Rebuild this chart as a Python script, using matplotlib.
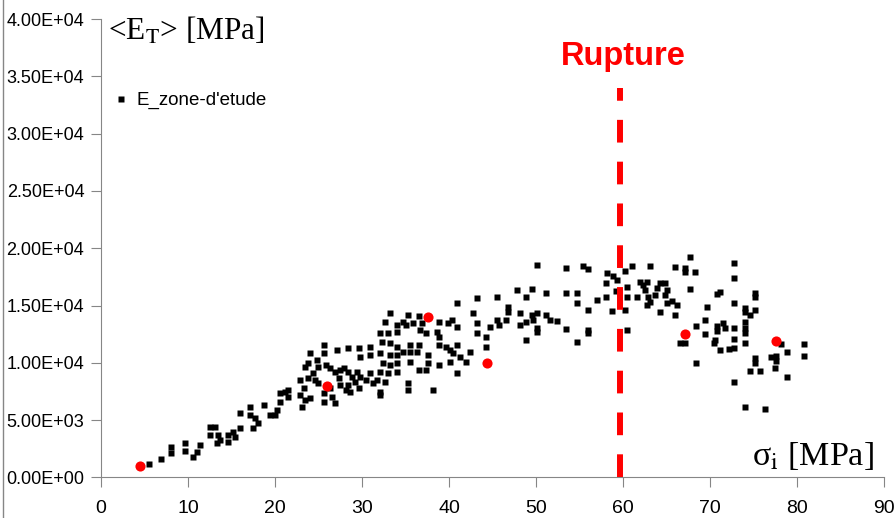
import numpy as np
import matplotlib.pyplot as plt
from matplotlib.lines import Line2D
from matplotlib.ticker import FuncFormatter

plt.rcParams['font.family'] = ['Liberation Sans', 'DejaVu Sans']
plt.rcParams['mathtext.fontset'] = 'stix'

## DATA (sigma_i [MPa], <E_T> [MPa])

# sigma_i < 22 MPa
pts_low = [(5.55, 1180), (6.86, 1610), (8.0, 2690), (8.0, 2160), (9.66, 3010), (9.66, 2310),
           (10.54, 1820), (11.0, 2250), (11.38, 2840), (13.3, 2980), (14.6, 3120), (13.7, 3270),
           (15.4, 3560), (12.5, 4430), (13.1, 4430), (12.5, 3710), (13.5, 3710), (14.6, 3710),
           (15.2, 4000), (16.0, 4290), (16.0, 5600), (17.1, 6180), (17.1, 5450), (17.5, 4290),
           (17.7, 5160), (18.1, 4730), (18.7, 6330), (19.4, 5450), (20.0, 5450), (20.2, 5890),
           (20.6, 7350), (21.1, 7490), (21.5, 7050), (21.5, 7640), (20.6, 6620)]

# 22 - 34 MPa
pts_mid = [(33.2, 14330), (32.6, 13600), (34.0, 13310), (32.1, 12580), (33.0, 12580), (34.0, 12720),
           (32.3, 11850), (33.2, 11710), (34.0, 11420), (32.1, 10840), (33.2, 10690), (34.0, 10690),
           (32.4, 9960), (33.2, 9820), (34.0, 9960), (32.1, 9230), (33.0, 9090), (34.0, 9230),
           (30.9, 11420), (30.9, 10690), (29.6, 11270), (29.8, 10540), (28.4, 11270), (27.1, 11130),
           (25.6, 11560), (25.6, 10840), (24.0, 10840), (23.8, 9960), (23.4, 9670), (24.8, 10250),
           (25.0, 9670), (24.4, 9090), (22.9, 8510), (23.8, 8660), (24.6, 8510), (25.0, 8220),
           (25.9, 9820), (26.3, 9530), (26.9, 9230), (27.5, 9380), (27.9, 9530), (28.4, 9230),
           (28.8, 8800), (29.4, 9230), (29.8, 8800), (30.5, 8510), (30.9, 9090), (31.7, 8510),
           (32.6, 8360), (31.3, 8220), (29.2, 8360), (28.4, 8070), (27.3, 8660), (27.5, 8070),
           (28.2, 7640), (29.6, 7780), (28.6, 7490), (32.1, 7490), (32.1, 7200), (26.5, 7050),
           (25.6, 7350), (26.3, 7780), (23.3, 7780), (22.9, 7200), (23.4, 6760), (24.0, 6910),
           (23.1, 6180), (25.6, 6620), (26.9, 6470)]

# 34 - 44 MPa
pts_upper = [(43.2, 15640), (40.9, 15200), (42.8, 14330), (43.2, 13460), (43.2, 12580), (40.3, 13740),
             (39.9, 13460), (40.9, 13160), (38.8, 13600), (36.5, 14090), (35.3, 14180), (34.7, 13600),
             (35.1, 13310), (35.9, 13460), (36.9, 13460), (36.7, 12870), (37.4, 12580), (38.6, 12720),
             (38.8, 12290), (35.5, 11560), (36.5, 11560), (36.3, 10980), (35.5, 10980), (34.7, 10980),
             (38.8, 11560), (39.7, 11420), (40.1, 11130), (40.9, 11560), (40.5, 10840), (41.3, 10540),
             (42.0, 10100), (42.4, 10980), (40.1, 10100), (38.8, 9820), (37.6, 10690), (37.6, 9960),
             (37.4, 9380), (36.5, 9380), (35.5, 10100), (35.3, 8220), (35.3, 7640), (38.2, 7640),
             (40.9, 9090)]

# 44 - 60 MPa
pts_peak = [(50.1, 18540), (53.5, 18250), (47.8, 16360), (49.5, 16420), (48.9, 15780), (51.2, 16070),
            (53.5, 16130), (54.7, 16130), (54.7, 15250), (45.5, 15780), (46.8, 14900), (46.8, 14470),
            (48.2, 14330), (49.5, 14180), (50.1, 14330), (51.2, 14180), (51.6, 13740), (52.4, 13680),
            (48.2, 13310), (48.9, 13600), (49.7, 13740), (50.1, 13020), (50.1, 12720), (45.5, 13740),
            (45.7, 13310), (44.3, 12290), (44.7, 13160), (46.6, 13740), (53.5, 12930), (54.7, 11850),
            (48.9, 12000), (44.3, 11420),
            (55.4, 18480), (56.0, 18190), (58.1, 17820), (58.9, 17610), (59.3, 17230), (58.0, 16950),
            (58.0, 15780), (59.2, 16270), (60.4, 16650), (60.4, 15780), (57.0, 15490), (56.0, 14620),
            (58.7, 14530), (60.2, 14620), (60.4, 12870), (56.0, 12870), (56.0, 12580)]

# after rupture
pts_post = [(60.2, 18000), (61.0, 18480), (63.1, 18480), (66.0, 18400), (67.1, 18250), (67.1, 17960),
            (68.3, 17900), (67.7, 19210), (72.8, 18740), (72.8, 17440), (61.6, 15720), (62.0, 17090),
            (62.3, 16800), (62.5, 16360), (62.7, 17090), (62.9, 15780), (63.1, 15340), (62.7, 15050),
            (63.7, 15930), (63.9, 16510), (64.3, 16950), (64.8, 16950), (65.0, 16360), (64.8, 15930),
            (64.3, 14470), (65.0, 15200), (65.6, 15400), (66.2, 15050), (66.0, 14180), (67.7, 16450),
            (70.8, 15990), (71.1, 16160), (75.2, 16130), (75.2, 15780), (72.8, 15200), (74.0, 14760),
            (74.0, 14470), (74.6, 14180), (75.2, 14620), (69.6, 14900), (69.4, 13740), (68.4, 13220),
            (69.4, 12520), (70.8, 13220), (70.8, 12810), (71.5, 13510), (71.7, 13020), (70.6, 12000),
            (70.5, 11760), (72.8, 13020), (72.8, 12090), (74.0, 13600), (74.0, 13020), (74.0, 12640),
            (74.0, 11760), (71.1, 11130), (72.2, 11190), (72.8, 11270), (66.6, 11760), (67.1, 11760),
            (68.4, 10020), (75.2, 10400), (75.2, 10020), (77.0, 10490), (77.6, 10600), (77.6, 10190),
            (78.2, 11650), (78.8, 10980), (77.5, 9580), (75.7, 9320), (74.6, 9270), (78.8, 8740),
            (72.8, 8360), (74.0, 6180), (76.3, 5950), (80.8, 11650), (80.8, 10630)]

# red points
sigma_red = [4.5, 26.0, 37.6, 44.4, 67.1, 77.6]
E_red = [1000, 8000, 14000, 10000, 12500, 11900]

rupture_sigma = 59.6
rupture_top = 34000

xticks = np.arange(0, 91, 10)
yticks = np.arange(0, 40001, 5000)

pts = np.array(pts_low + pts_mid + pts_upper + pts_peak + pts_post)

## PLOT
fig = plt.figure(figsize=(8.95, 5.18), dpi=100)
ax = fig.add_axes([0.1128, 0.0782, 0.875, 0.885])

ax.plot(pts[:, 0], pts[:, 1], 's', color='black', ms=4.8, mec='none', label="E_zone-d'etude", zorder=2)
ax.plot(sigma_red, E_red, 'o', color='#ff0000', ms=7.3, mec='none', zorder=3)
ax.plot([rupture_sigma, rupture_sigma], [0, rupture_top], color='#ff0000', lw=4.3,
        dashes=(3.8, 3.2), zorder=4)
ax.text(rupture_sigma + 0.4, 36700, 'Rupture', color='#ff0000', fontsize=23.5, fontweight='bold',
        ha='center', va='center')

ax.set_xlim(0, 90)
ax.set_ylim(0, 40000)
ax.set_xticks(xticks)
ax.set_yticks(yticks)
ax.yaxis.set_major_formatter(FuncFormatter(lambda v, p: '{:.2E}'.format(v)))

for s in ['top', 'right']:
    ax.spines[s].set_visible(False)
for s in ['left', 'bottom']:
    ax.spines[s].set_color('#868686')
ax.tick_params(axis='both', direction='out', length=7, color='#868686')
ax.tick_params(axis='y', labelsize=13, pad=5)
ax.tick_params(axis='x', labelsize=14, pad=9)

ax.text(0.8, 38200, r'<E$_\mathrm{T}$> [MPa]', family='Liberation Serif', fontsize=22.5, va='baseline')
ax.text(74.8, 1100, r'σ$_\mathrm{i}$ [MPa]', family='Liberation Serif', fontsize=24.5, va='baseline')

ax.legend(loc='center left', bbox_to_anchor=(-0.006, 0.822), frameon=False, fontsize=13.5,
          handlelength=0.8, handletextpad=0.45, markerscale=0.85)

fig.add_artist(Line2D([0.003, 0.003], [0, 1], transform=fig.transFigure, color='#868686', lw=1))

fig.savefig('out.png', dpi=100)
